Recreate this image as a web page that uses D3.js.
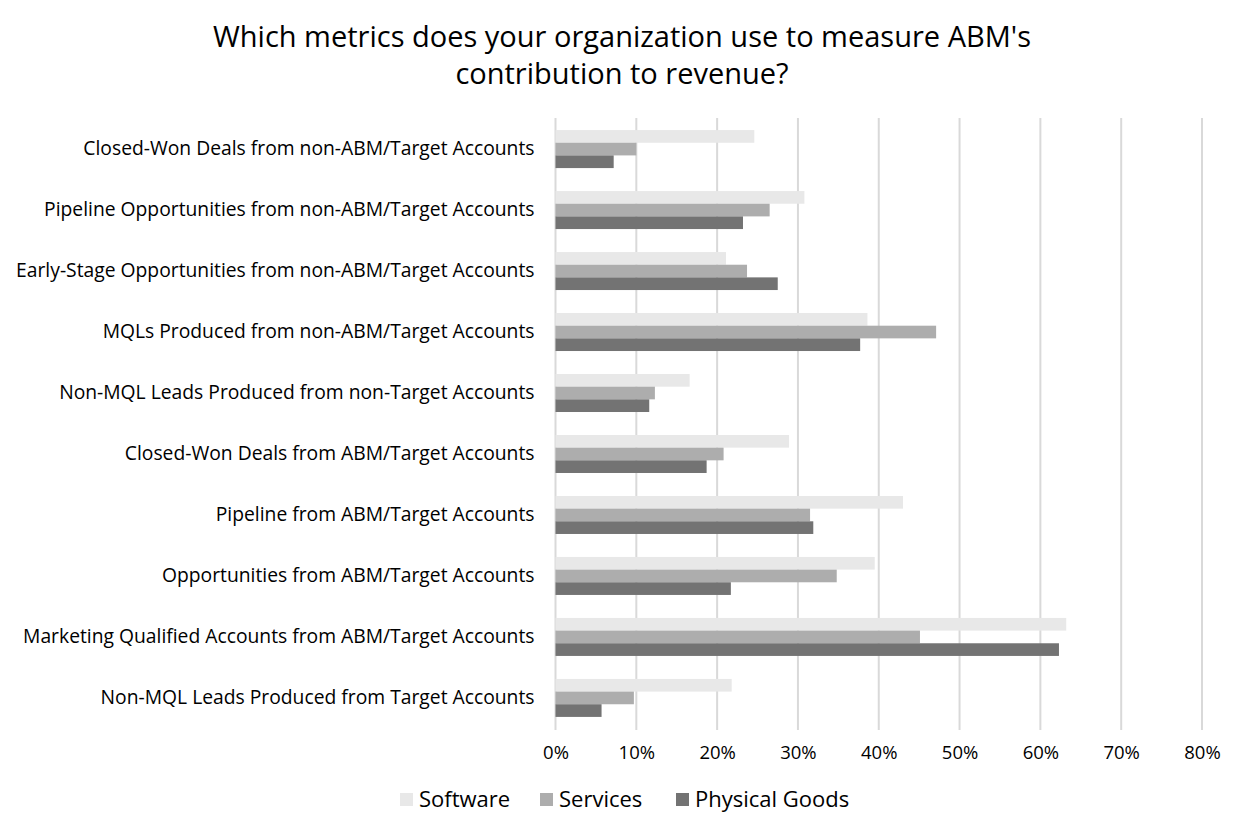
<!DOCTYPE html>
<html lang="en">
<head>
<meta charset="utf-8">
<title>ABM metrics</title>
<style>
  body { margin: 0; background: #fff; }
  text { font-family: "Open Sans", "Noto Sans", sans-serif; fill: #000; }
</style>
</head>
<body>
<div id="chart"></div>
<script src="https://d3js.org/d3.v7.min.js"></script>
<script>
const categories = [
  "Closed-Won Deals from non-ABM/Target Accounts",
  "Pipeline Opportunities from non-ABM/Target Accounts",
  "Early-Stage Opportunities from non-ABM/Target Accounts",
  "MQLs Produced from non-ABM/Target Accounts",
  "Non-MQL Leads Produced from non-Target Accounts",
  "Closed-Won Deals from ABM/Target Accounts",
  "Pipeline from ABM/Target Accounts",
  "Opportunities from ABM/Target Accounts",
  "Marketing Qualified Accounts from ABM/Target Accounts",
  "Non-MQL Leads Produced from Target Accounts"
];
const series = ["Software", "Services", "Physical Goods"];
const software      = [24.6, 30.8, 21.1, 38.6, 16.6, 28.9, 43.0, 39.5, 63.2, 21.8];
const services      = [10.0, 26.5, 23.7, 47.1, 12.3, 20.8, 31.5, 34.8, 45.1, 9.7];
const physicalGoods = [7.2, 23.2, 27.5, 37.7, 11.6, 18.7, 31.9, 21.7, 62.3, 5.7];
const xTicks = [0, 10, 20, 30, 40, 50, 60, 70, 80];
const colors = ["#e8e8e8", "#adadad", "#737373"];

const W = 1244, H = 834;
const values = [software, services, physicalGoods];

const svg = d3.select("#chart").append("svg")
  .attr("width", W).attr("height", H);

// title
const title = svg.append("text")
  .attr("x", 622).attr("y", 47)
  .attr("text-anchor", "middle")
  .style("font-size", "29px");
title.append("tspan").attr("x", 622).attr("dy", 0)
  .text("Which metrics does your organization use to measure ABM's");
title.append("tspan").attr("x", 622).attr("dy", 37)
  .text("contribution to revenue?");

const x = d3.scaleLinear().domain([0, 80]).range([555.5, 1202]);
const y = d3.scaleBand().domain(categories).range([118.5, 728.5])
  .paddingInner(0.377).paddingOuter(0.19);
const ySub = d3.scaleBand().domain(series).range([0, y.bandwidth()]);

// gridlines
svg.append("g").selectAll("line")
  .data(xTicks).join("line")
  .attr("x1", d => x(d)).attr("x2", d => x(d))
  .attr("y1", 118).attr("y2", 730)
  .attr("stroke", "#d9d9d9").attr("stroke-width", 2);

// bars
const groups = svg.append("g").selectAll("g")
  .data(categories).join("g")
  .attr("transform", d => `translate(0,${y(d)})`);

groups.selectAll("rect")
  .data((c, i) => series.map((s, j) => ({ s, j, v: values[j][i] })))
  .join("rect")
  .attr("x", x(0))
  .attr("y", d => ySub(d.s))
  .attr("width", d => x(d.v) - x(0))
  .attr("height", ySub.bandwidth())
  .attr("fill", d => colors[d.j]);

// category labels
const yAxis = svg.append("g")
  .attr("transform", `translate(${x(0)},0)`)
  .call(d3.axisLeft(y).tickSize(0).tickPadding(21));
yAxis.select(".domain").remove();
yAxis.selectAll("text").style("font-size", "19.3px").attr("fill", "#000");

// x axis labels
const xAxis = svg.append("g")
  .attr("transform", `translate(0,730)`)
  .call(d3.axisBottom(x).tickValues(xTicks).tickSize(0).tickPadding(16)
    .tickFormat(d => d + "%"));
xAxis.select(".domain").remove();
xAxis.selectAll("text").style("font-size", "18.5px").attr("fill", "#000");

// legend
const legendX = [400, 540, 676];
const legend = svg.append("g").selectAll("g")
  .data(series).join("g")
  .attr("transform", (d, i) => `translate(${legendX[i]},793)`);
legend.append("rect")
  .attr("width", 13).attr("height", 13)
  .attr("fill", (d, i) => colors[i]);
legend.append("text")
  .attr("x", 19).attr("y", 14)
  .style("font-size", "22px")
  .text(d => d);
</script>
</body>
</html>
